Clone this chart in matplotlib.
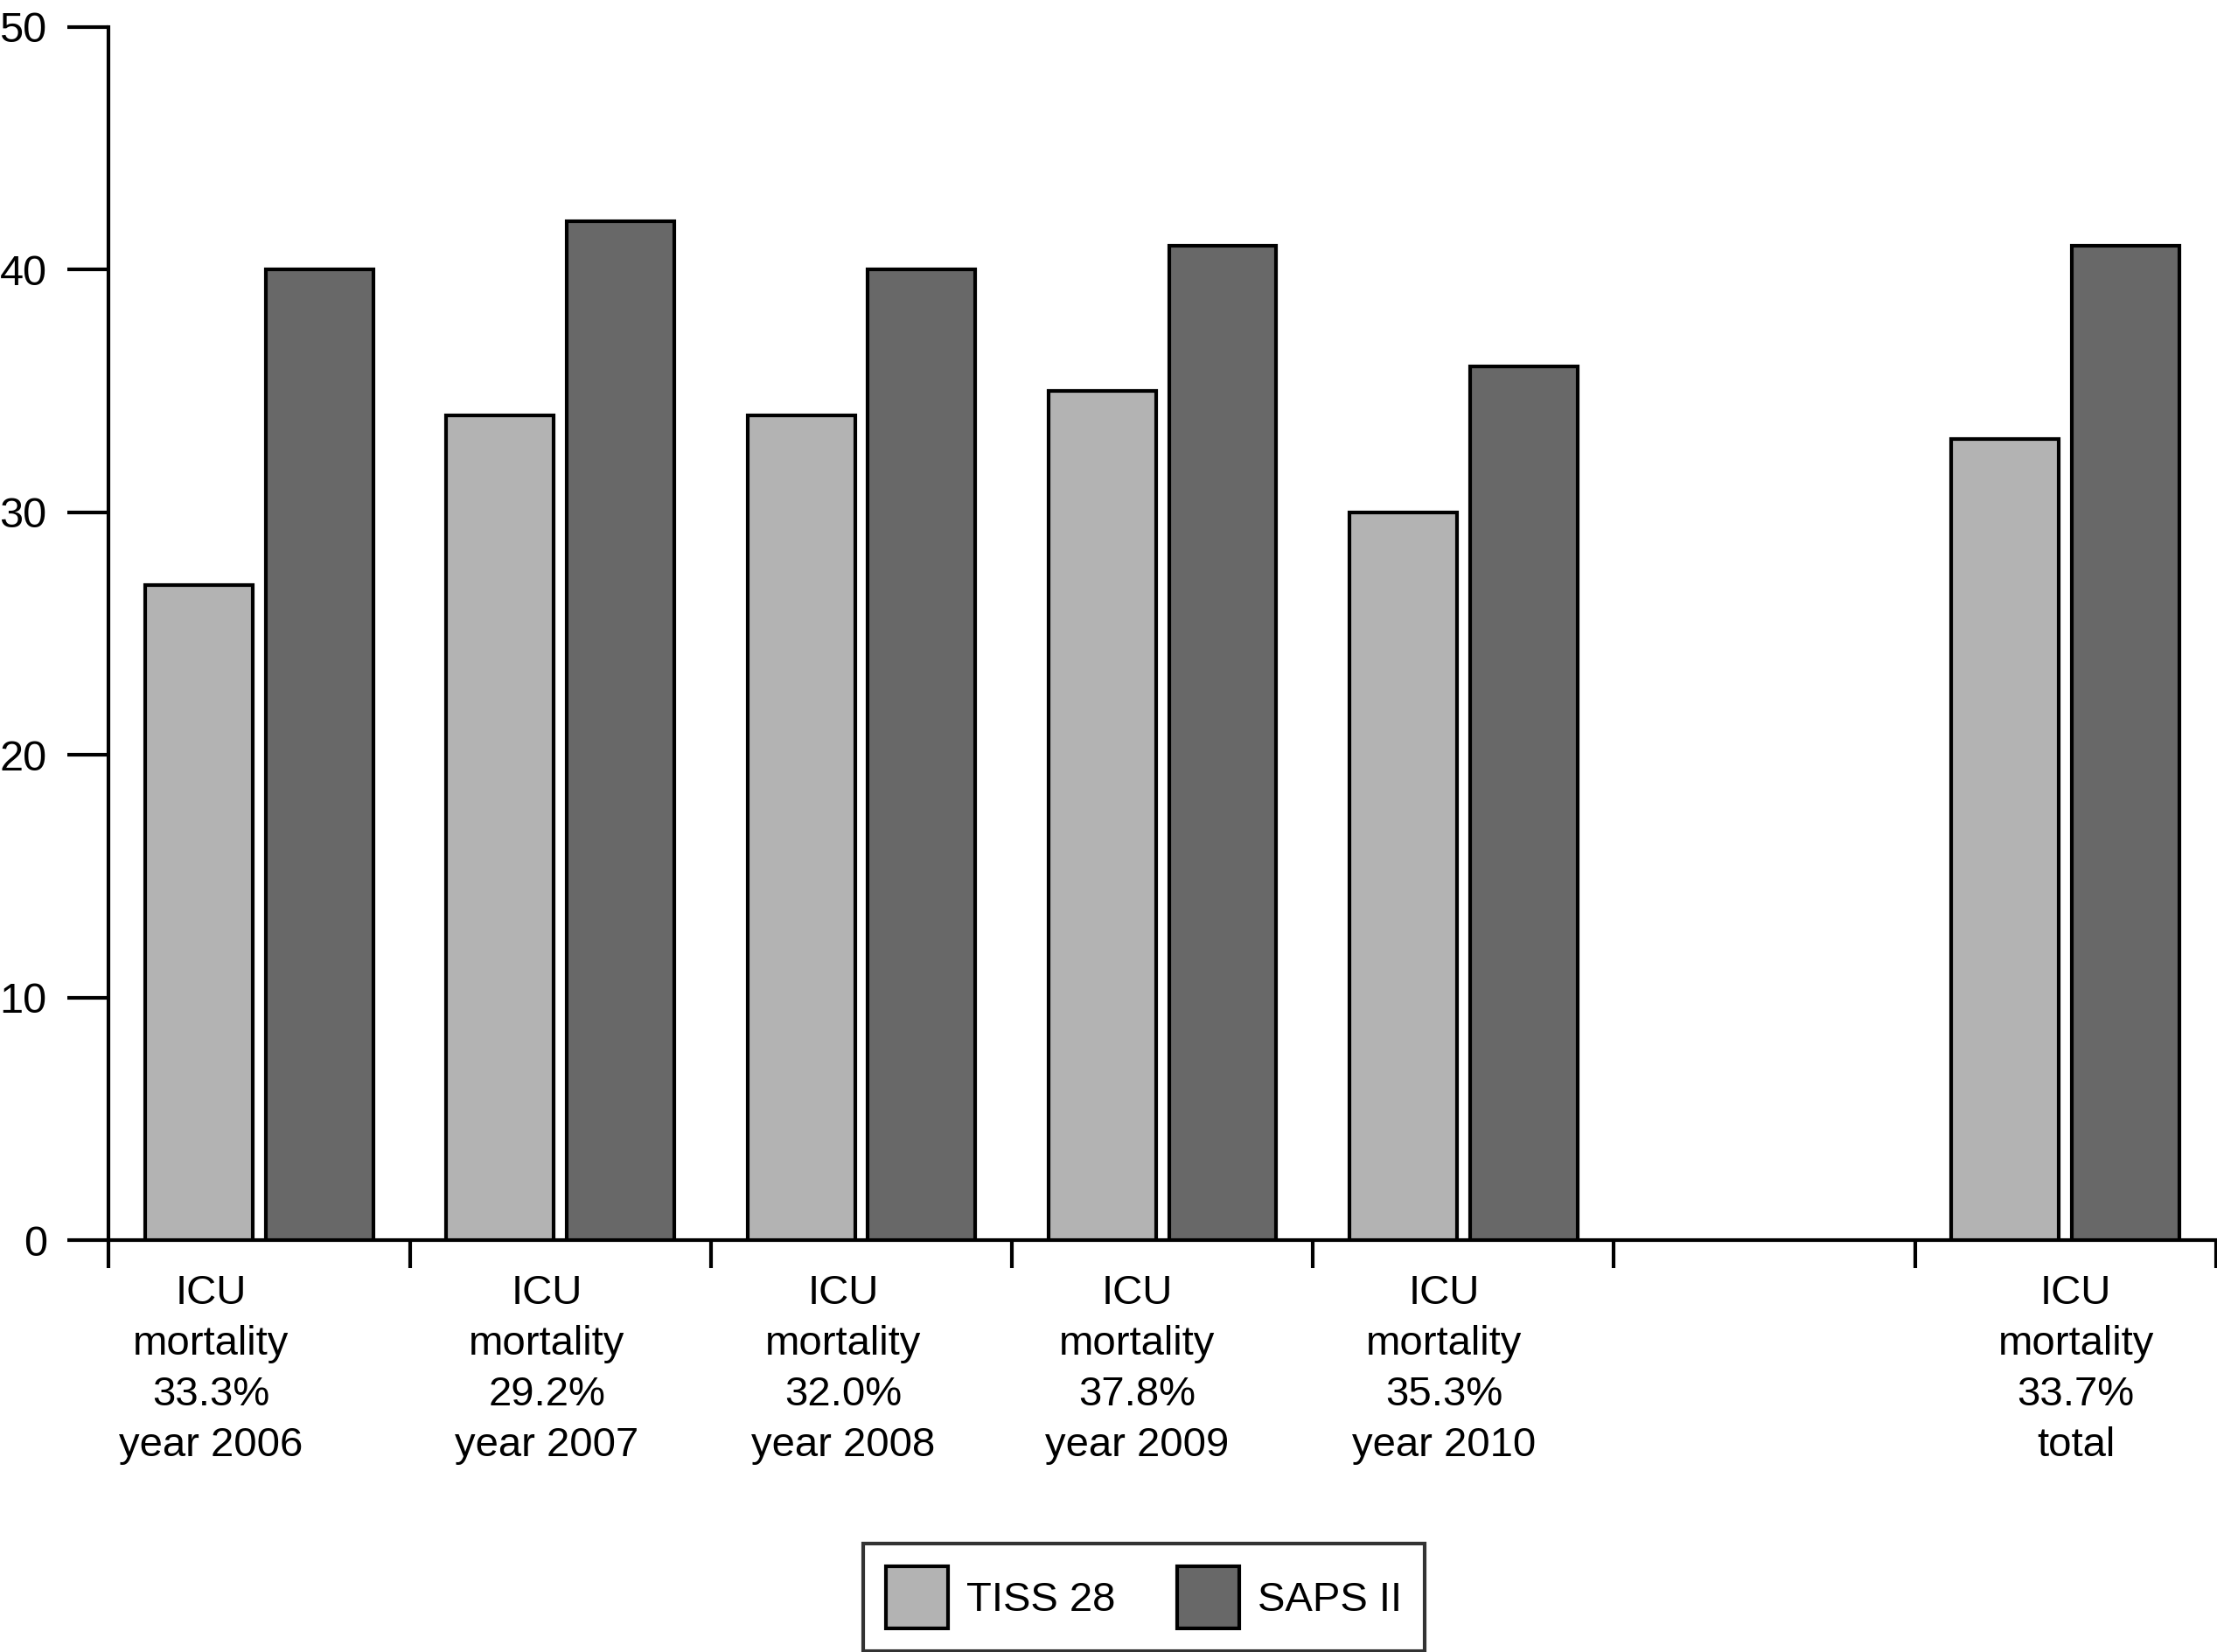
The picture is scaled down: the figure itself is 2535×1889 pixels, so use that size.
import matplotlib
matplotlib.use("Agg")
import matplotlib.pyplot as plt
import numpy as np

plt.rcParams['font.family'] = ['Liberation Sans', 'DejaVu Sans']

# data
slots = [0, 1, 2, 3, 4, 6]          # category slot (slot 5 is empty)
labels = [
    "ICU\nmortality\n33.3%\nyear 2006",
    "ICU\nmortality\n29.2%\nyear 2007",
    "ICU\nmortality\n32.0%\nyear 2008",
    "ICU\nmortality\n37.8%\nyear 2009",
    "ICU\nmortality\n35.3%\nyear 2010",
    "ICU\nmortality\n33.7%\ntotal",
]
tiss28 = [27, 34, 34, 35, 30, 33]
saps2 = [40, 42, 40, 41, 36, 41]
n_slots = 7

# label nudges (category units), as in the original
label_shift = [-0.16, -0.045, -0.06, -0.085, -0.065, 0.035]

LIGHT = "#b3b3b3"
DARK = "#686868"
FS = 34
LW = 3.0

fig = plt.figure(figsize=(25.35, 18.89), dpi=100)
ax = fig.add_axes([0.0491, 0.2493, 0.9504, 0.7344])

x = np.array(slots) + 0.5
w = 0.357
ax.bar(x - 0.2, tiss28, width=w, color=LIGHT, edgecolor="black", linewidth=LW, label="TISS 28", zorder=3)
ax.bar(x + 0.2, saps2, width=w, color=DARK, edgecolor="black", linewidth=LW, label="SAPS II", zorder=3)

ax.set_xlim(0, n_slots)
ax.set_ylim(0, 50)
ax.set_yticks([0, 10, 20, 30, 40, 50])
ax.set_xticks(range(n_slots + 1))
ax.set_xticklabels([])

for s in ["top", "right"]:
    ax.spines[s].set_visible(False)
for s in ["left", "bottom"]:
    ax.spines[s].set_linewidth(LW)
ax.spines["bottom"].set_clip_on(False)

ax.tick_params(axis="y", length=34, width=LW, pad=17, labelsize=FS + 1)
ax.tick_params(axis="x", length=23, width=LW)

for xi, lab, dx in zip(x, labels, label_shift):
    ax.annotate(lab, xy=(xi + dx, 0), xycoords=("data", "axes fraction"),
                xytext=(0, -28), textcoords="offset points",
                ha="center", va="top", fontsize=FS, linespacing=1.41,
                multialignment="center")

leg = fig.legend(loc="center", bbox_to_anchor=(0.516, 0.033), ncol=2,
                 fontsize=FS, frameon=True, fancybox=False,
                 edgecolor="black", handlelength=1.5, handleheight=1.95,
                 handletextpad=0.45, columnspacing=1.5, borderpad=0.55)
leg.get_frame().set_linewidth(LW)
for p in leg.get_patches():
    p.set_linewidth(LW)

fig.savefig("out.png", dpi=100)
